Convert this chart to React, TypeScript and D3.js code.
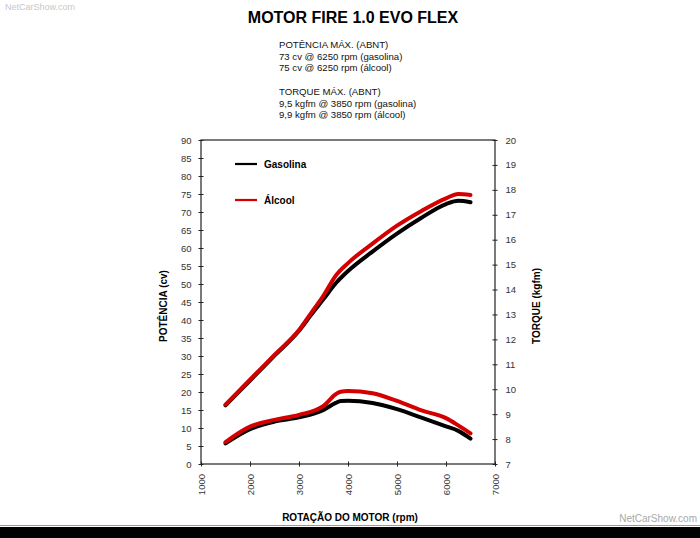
import * as d3 from "d3";
import { useEffect, useRef } from "react";

// rpm readings shared by the power series
const rpm = [1500, 2000, 2500, 3000, 3250, 3500, 3750, 4000, 4500, 5000, 5500, 6000, 6250, 6500];
const powerGas = [16.3, 23.2, 30.1, 37.0, 41.5, 45.8, 50.2, 53.6, 59.0, 64.0, 68.4, 72.2, 73.1, 72.7];
const powerAlc = [16.5, 23.4, 30.3, 37.2, 42.0, 46.8, 52.3, 55.8, 61.2, 66.2, 70.3, 73.8, 75.0, 74.7];

const torqueRpm = [1500, 2000, 2500, 3000, 3500, 3750, 3850, 4000, 4500, 5000, 5500, 6000, 6250, 6500];
const torqueGas = [7.83, 8.4, 8.7, 8.87, 9.17, 9.45, 9.53, 9.54, 9.45, 9.2, 8.86, 8.51, 8.33, 8.02];
const torqueAlc = [7.88, 8.5, 8.77, 8.97, 9.33, 9.8, 9.9, 9.93, 9.84, 9.53, 9.15, 8.84, 8.55, 8.23];

const xTicks = [1000, 2000, 3000, 4000, 5000, 6000, 7000];
const powerTicks = d3.range(0, 91, 5);
const torqueTicks = d3.range(7, 21, 1);

const infoLines = [
  "POTÊNCIA MÁX. (ABNT)",
  "73 cv @ 6250 rpm (gasolina)",
  "75 cv @ 6250 rpm (álcool)",
  "",
  "TORQUE MÁX. (ABNT)",
  "9,5 kgfm @ 3850 rpm (gasolina)",
  "9,9 kgfm @ 3850 rpm (álcool)",
];

const series = [
  { name: "Gasolina", color: "#000000", power: powerGas, torque: torqueGas },
  { name: "Álcool", color: "#d40000", power: powerAlc, torque: torqueAlc },
];

const width = 700;
const height = 538;
const font = "'Liberation Sans', Arial, sans-serif";

export default function App() {
  const svgRef = useRef<SVGSVGElement>(null);

  useEffect(() => {
    if (!svgRef.current) return;
    const svg = d3.select(svgRef.current);
    svg.selectAll("*").remove();

    const margin = { top: 140, left: 201, right: 205, bottom: 74 };
    const x = d3.scaleLinear().domain([1000, 7000]).range([margin.left, width - margin.right]);
    const yP = d3.scaleLinear().domain([0, 90]).range([height - margin.bottom, margin.top]);
    const yT = d3.scaleLinear().domain([7, 20]).range([height - margin.bottom, margin.top]);

    svg.append("rect").attr("width", width).attr("height", height).attr("fill", "#fff");

    // watermarks
    svg
      .append("text")
      .attr("x", 5)
      .attr("y", 10)
      .style("font-family", font)
      .style("font-size", "9px")
      .style("fill", "#c8c8c8")
      .text("NetCarShow.com");
    svg
      .append("text")
      .attr("x", 697)
      .attr("y", 522)
      .attr("text-anchor", "end")
      .style("font-family", font)
      .style("font-size", "10px")
      .style("fill", "#a8a8a8")
      .text("NetCarShow.com");

    svg.append("rect").attr("x", 0).attr("y", 527).attr("width", width).attr("height", 11).attr("fill", "#000");
    svg.append("line").attr("x1", 0).attr("x2", width).attr("y1", 525.5).attr("y2", 525.5).attr("stroke", "#999");

    // title
    svg
      .append("text")
      .attr("x", 353)
      .attr("y", 23)
      .attr("text-anchor", "middle")
      .style("font-family", font)
      .style("font-size", "16px")
      .style("font-weight", "bold")
      .text("MOTOR FIRE 1.0 EVO FLEX");

    svg
      .append("g")
      .selectAll("text")
      .data(infoLines)
      .enter()
      .append("text")
      .attr("x", 279)
      .attr("y", (_, i) => 48 + i * 11.7)
      .style("font-family", font)
      .style("font-size", "9.6px")
      .style("fill", "#111")
      .text((d) => d);

    const [x0, x1] = x.range();
    const [b, t] = yP.range();

    // frame
    svg
      .append("rect")
      .attr("x", x0)
      .attr("y", t)
      .attr("width", x1 - x0)
      .attr("height", b - t)
      .attr("fill", "none")
      .attr("stroke", "#222")
      .attr("stroke-width", 1.2);

    const tickStyle = (sel: d3.Selection<SVGGElement, unknown, null, undefined>) => {
      sel.select(".domain").remove();
      sel.selectAll(".tick line").attr("stroke", "#222");
      sel
        .selectAll(".tick text")
        .style("font-family", font)
        .style("font-size", "9.5px")
        .style("fill", "#333");
    };

    const left = svg
      .append("g")
      .attr("transform", `translate(${x0},0)`)
      .call(d3.axisLeft(yP).tickValues(powerTicks).tickSize(2.5).tickPadding(7));
    tickStyle(left);
    left.selectAll(".tick line").attr("x2", 2.5).attr("x1", -2.5);

    const right = svg
      .append("g")
      .attr("transform", `translate(${x1},0)`)
      .call(d3.axisRight(yT).tickValues(torqueTicks).tickSize(2.5).tickPadding(8));
    tickStyle(right);
    right.selectAll(".tick line").attr("x1", -2.5).attr("x2", 2.5);

    const bottom = svg
      .append("g")
      .attr("transform", `translate(0,${b})`)
      .call(d3.axisBottom(x).tickValues(xTicks).tickFormat(d3.format("d")).tickSize(2.5));
    tickStyle(bottom);
    bottom.selectAll(".tick line").attr("y1", -2.5).attr("y2", 2.5);
    bottom
      .selectAll(".tick text")
      .attr("transform", "rotate(-90)")
      .attr("text-anchor", "end")
      .attr("x", -10)
      .attr("y", 0)
      .attr("dy", "0.35em");

    // axis titles
    const axisTitle = (tx: number, ty: number, rot: number, label: string) =>
      svg
        .append("text")
        .attr("transform", `translate(${tx},${ty}) rotate(${rot})`)
        .attr("text-anchor", "middle")
        .style("font-family", font)
        .style("font-size", "10px")
        .style("font-weight", "bold")
        .text(label);
    axisTitle(167, 306, -90, "POTÊNCIA (cv)");
    axisTitle(540, 306, -90, "TORQUE (kgfm)");
    axisTitle(350, 521, 0, "ROTAÇÃO DO MOTOR (rpm)");

    // curves
    const powerLine = d3
      .line<number>()
      .x((_, i) => x(rpm[i]))
      .y((d) => yP(d))
      .curve(d3.curveMonotoneX);
    const torqueLine = d3
      .line<number>()
      .x((_, i) => x(torqueRpm[i]))
      .y((d) => yT(d))
      .curve(d3.curveMonotoneX);

    const curves = svg.append("g");
    series.forEach((s) => {
      curves
        .append("path")
        .attr("d", powerLine(s.power))
        .attr("fill", "none")
        .attr("stroke", s.color)
        .attr("stroke-width", 4)
        .attr("stroke-linecap", "round")
        .attr("stroke-linejoin", "round");
      curves
        .append("path")
        .attr("d", torqueLine(s.torque))
        .attr("fill", "none")
        .attr("stroke", s.color)
        .attr("stroke-width", 4)
        .attr("stroke-linecap", "round")
        .attr("stroke-linejoin", "round");
    });

    // legend
    const legend = svg.append("g").attr("transform", `translate(235,164)`);
    series.forEach((s, i) => {
      const row = legend.append("g").attr("transform", `translate(0,${i * 36})`);
      row.append("line").attr("x1", 0).attr("x2", 22).attr("stroke", s.color).attr("stroke-width", 2.2);
      row
        .append("text")
        .attr("x", 29)
        .attr("dy", "0.35em")
        .style("font-family", font)
        .style("font-size", "10px")
        .style("font-weight", "bold")
        .text(s.name);
    });
  }, []);

  return (
    <div style={{ position: "fixed", left: 0, top: 0, width, height, background: "#fff" }}>
      <svg ref={svgRef} width={width} height={height} style={{ display: "block" }} />
    </div>
  );
}
